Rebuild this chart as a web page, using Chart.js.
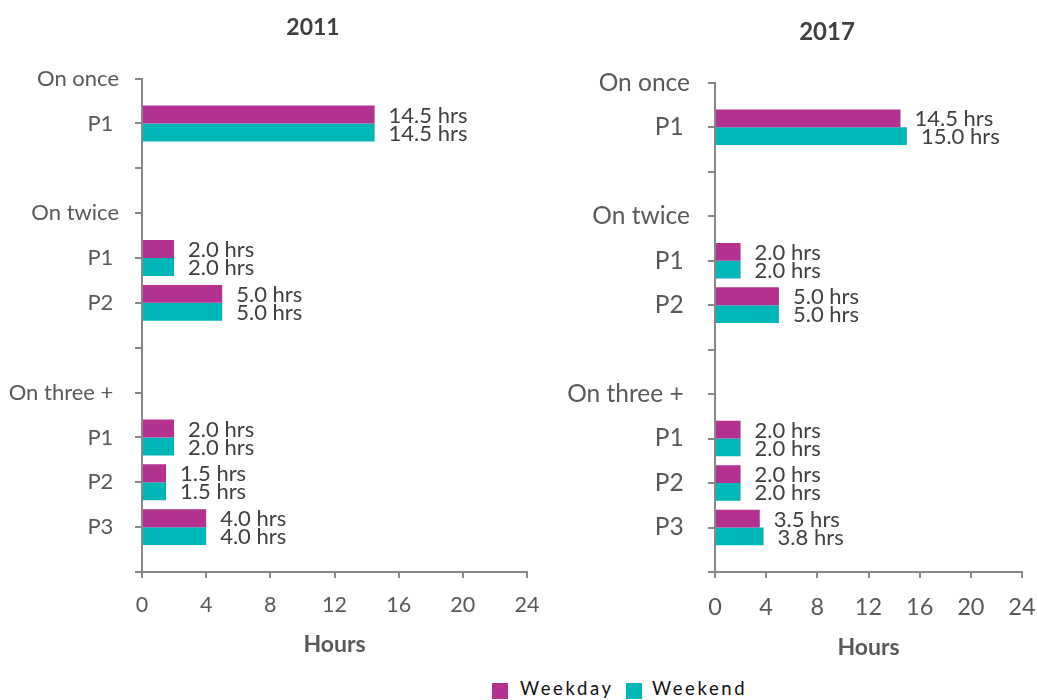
<!DOCTYPE html>
<html>
<head>
<meta charset="utf-8">
<script src="https://cdn.jsdelivr.net/npm/chart.js@4.4.1/dist/chart.umd.min.js"></script>
<style>
    body { margin: 0; background: #fff; width: 1037px; height: 700px; position: relative; overflow: hidden; font-family: Lato, sans-serif; }
    canvas { position: absolute; top: 0; }
    #chart2011 { left: 0; }
    #chart2017 { left: 560px; }
    .key { position: absolute; top: 683px; width: 16px; height: 16px; }
    .keyText { position: absolute; top: 675px; font-size: 18.5px; letter-spacing: 2.6px; color: #111; line-height: 26px; }
</style>
</head>
<body>
<canvas id="chart2011" width="626" height="670"></canvas>
<canvas id="chart2017" width="534" height="670"></canvas>
<div class="key" style="left:492px;background:#b5318f"></div>
<div class="keyText" style="left:520px">Weekday</div>
<div class="key" style="left:626px;background:#00b7b8"></div>
<div class="keyText" style="left:652px">Weekend</div>
<script>
const categories = ["On once", "P1 ", "", "On twice", "P1 ", "P2 ", "", "On three + ", "P1 ", "P2 ", "P3 ", ""];
const xTicks = [0, 4, 8, 12, 16, 20, 24];

const weekday2011 = [null, 14.5, null, null, 2.0, 5.0, null, null, 2.0, 1.5, 4.0, null];
const weekend2011 = [null, 14.5, null, null, 2.0, 5.0, null, null, 2.0, 1.5, 4.0, null];
const weekday2017 = [null, 14.5, null, null, 2.0, 5.0, null, null, 2.0, 2.0, 3.5, null];
const weekend2017 = [null, 15.0, null, null, 2.0, 5.0, null, null, 2.0, 2.0, 3.8, null];

const axisGrey = "#878787";

// draws "x.x hrs" to the right of each bar
const valueLabels = {
    id: "valueLabels",
    afterDatasetsDraw(chart) {
        const ctx = chart.ctx;
        ctx.save();
        ctx.font = "22px Lato";
        ctx.fillStyle = "#404040";
        ctx.textAlign = "left";
        ctx.textBaseline = "middle";
        chart.data.datasets.forEach((ds, i) => {
            chart.getDatasetMeta(i).data.forEach((bar, j) => {
                const v = ds.data[j];
                if (v == null) return;
                ctx.fillText(v.toFixed(1) + " hrs", bar.x + 14, bar.y + 1);
            });
        });
        ctx.restore();
    },
};

function makeChart(id, year, weekday, weekend, p) {
    return new Chart(document.getElementById(id), {
        type: "bar",
        data: {
            labels: categories,
            datasets: [
                { label: "Weekday", data: weekday, backgroundColor: "#b5318f", barPercentage: 1, categoryPercentage: 0.8 },
                { label: "Weekend", data: weekend, backgroundColor: "#00b7b8", barPercentage: 1, categoryPercentage: 0.8 },
            ],
        },
        plugins: [valueLabels],
        options: {
            indexAxis: "y",
            responsive: false,
            animation: false,
            layout: { padding: 0 },
            plugins: {
                legend: { display: false },
                tooltip: { enabled: false },
                title: {
                    display: true,
                    text: year,
                    color: "#404040",
                    font: { family: "Lato", size: p.titleSize, weight: "bold" },
                    padding: { top: p.titleTop, bottom: p.titleBottom },
                },
            },
            scales: {
                x: {
                    min: 0,
                    max: 24,
                    afterBuildTicks: (scale) => { scale.ticks = xTicks.map((v) => ({ value: v })); },
                    ticks: { color: "#595959", font: { family: "Lato", size: p.xTickSize }, padding: p.xTickPad },
                    grid: { drawOnChartArea: false, tickLength: 6, color: axisGrey, lineWidth: 2 },
                    border: { color: axisGrey, width: 2 },
                    title: {
                        display: true,
                        text: "Hours",
                        color: "#595959",
                        font: { family: "Lato", size: 23, weight: "bold" },
                        padding: { top: 0, bottom: p.hoursBottom },
                    },
                    afterFit: (scale) => {
                        scale.height = 98;
                        scale.paddingLeft = 0;
                        scale.paddingRight = p.rightGap;
                    },
                },
                y: {
                    offset: false,
                    ticks: { color: "#595959", font: { family: "Lato", size: p.yTickSize }, padding: p.yTickPad, autoSkip: false },
                    grid: { offset: false, drawOnChartArea: false, tickLength: 7, color: axisGrey, lineWidth: 2 },
                    border: { color: axisGrey, width: 2 },
                    afterFit: (scale) => {
                        scale.width = p.yWidth;
                        scale.paddingTop = 0;
                        scale.paddingBottom = 0;
                    },
                },
            },
        },
    });
}

makeChart("chart2011", "2011", weekday2011, weekend2011, {
    rightGap: 99, yWidth: 142,
    titleSize: 23, titleTop: 14, titleBottom: 37,
    xTickSize: 21.5, xTickPad: 14, hoursBottom: 12,
    yTickSize: 22, yTickPad: 16,
});

makeChart("chart2017", "2017", weekday2017, weekend2017, {
    rightGap: 72, yWidth: 155,
    titleSize: 24, titleTop: 18, titleBottom: 36,
    xTickSize: 23.5, xTickPad: 15, hoursBottom: 9,
    yTickSize: 24.5, yTickPad: 18,
});
</script>
</body>
</html>
